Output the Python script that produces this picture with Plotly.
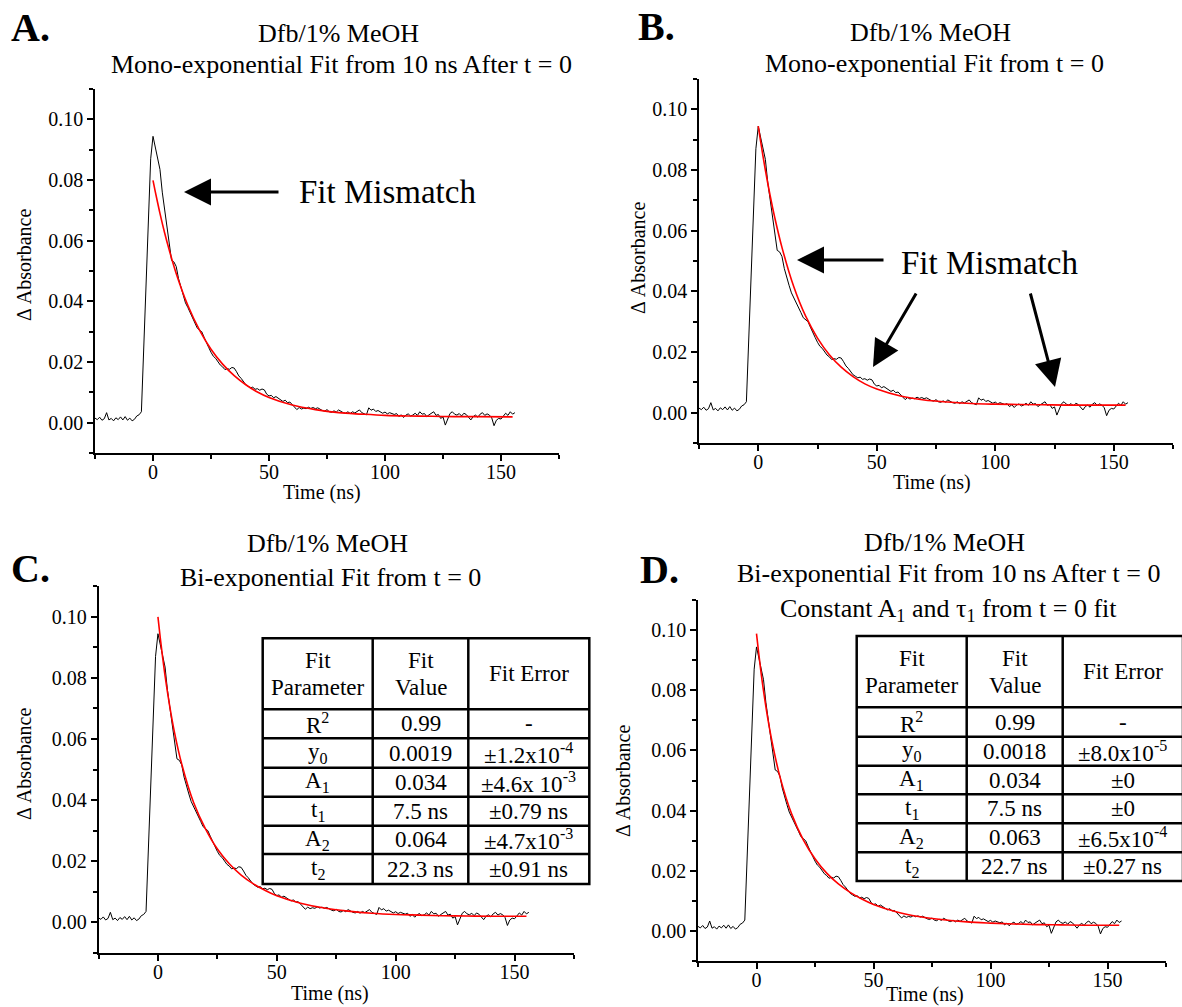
import plotly.graph_objects as go

W, H = 1182, 1007
FONT = "Liberation Serif"

# ---------------- data ----------------
time_ns = list(range(-25, 157))
absorbance = [
    0.0015, 0.0010, 0.0018, 0.0008, 0.0013, 0.0033, 0.0009, 0.0014, 0.0006, 0.0016,
    0.0010, 0.0019, 0.0009, 0.0020, 0.0008, 0.0015, 0.0006, 0.0011, 0.0022, 0.0026,
    0.0036, 0.0240, 0.0480, 0.0700, 0.0870, 0.0944, 0.0905, 0.0870, 0.0835, 0.0760,
    0.0700, 0.0650, 0.0580, 0.0535, 0.0530, 0.0515, 0.0475, 0.0445, 0.0420, 0.0395,
    0.0380, 0.0362, 0.0350, 0.0330, 0.0313, 0.0305, 0.0300, 0.0282, 0.0262, 0.0248,
    0.0232, 0.0219, 0.0212, 0.0200, 0.0190, 0.0184, 0.0175, 0.0178, 0.0176, 0.0182,
    0.0180, 0.0168, 0.0154, 0.0146, 0.0134, 0.0125, 0.0120, 0.0115, 0.0117, 0.0110,
    0.0112, 0.0107, 0.0111, 0.0108, 0.0094, 0.0088, 0.0090, 0.0082, 0.0086, 0.0080,
    0.0076, 0.0070, 0.0074, 0.0066, 0.0068, 0.0060, 0.0052, 0.0043, 0.0050, 0.0045,
    0.0048, 0.0046, 0.0051, 0.0047, 0.0050, 0.0046, 0.0049, 0.0044, 0.0040, 0.0038,
    0.0043, 0.0036, 0.0034, 0.0039, 0.0035, 0.0042, 0.0037, 0.0033, 0.0031, 0.0036,
    0.0030, 0.0036, 0.0032, 0.0038, 0.0042, 0.0033, 0.0029, 0.0026, 0.0049, 0.0041,
    0.0045, 0.0037, 0.0040, 0.0034, 0.0031, 0.0035, 0.0029, 0.0033, 0.0031, 0.0027,
    0.0030, 0.0020, 0.0026, 0.0017, 0.0025, 0.0029, 0.0022, 0.0025, 0.0031, 0.0024,
    0.0036, 0.0028, 0.0030, 0.0020, 0.0026, 0.0031, 0.0036, 0.0024, 0.0027, 0.0014,
    0.0019, -0.0008, 0.0012, 0.0030, 0.0036, 0.0028, 0.0025, 0.0030, 0.0022, 0.0031,
    0.0027, 0.0018, 0.0009, 0.0020, 0.0025, 0.0018, 0.0028, 0.0033, 0.0024, 0.0029,
    0.0025, 0.0016, -0.0010, 0.0008, 0.0014, 0.0012, 0.0022, 0.0031, 0.0024, 0.0036,
    0.0028, 0.0033,
]

fit_time_ns = [0, 1, 2, 3, 5, 7, 10, 15, 20, 25, 30, 35, 40, 45, 50, 60, 70, 80, 90,
               100, 110, 120, 130, 140, 155]
fit_A = [0.0799, 0.0761, 0.0725, 0.0690, 0.0626, 0.0569, 0.0492, 0.0387, 0.0306, 0.0242,
         0.0193, 0.0155, 0.0125, 0.0101, 0.0083, 0.0058, 0.0043, 0.0033, 0.0028,
         0.0024, 0.0022, 0.0021, 0.0020, 0.0020, 0.0019]
fit_B = [0.0945, 0.0894, 0.0846, 0.0800, 0.0716, 0.0642, 0.0545, 0.0415, 0.0318, 0.0246,
         0.0191, 0.0150, 0.0119, 0.0095, 0.0078, 0.0055, 0.0042, 0.0035, 0.0030,
         0.0028, 0.0027, 0.0026, 0.0025, 0.0025, 0.0025]
fit_C = [0.0999, 0.0929, 0.0865, 0.0806, 0.0705, 0.0620, 0.0518, 0.0392, 0.0306, 0.0240,
         0.0192, 0.0155, 0.0127, 0.0105, 0.0087, 0.0063, 0.0047, 0.0037, 0.0030,
         0.0026, 0.0024, 0.0022, 0.0021, 0.0020, 0.0020]
fit_D = [0.0988, 0.0919, 0.0855, 0.0798, 0.0698, 0.0615, 0.0513, 0.0389, 0.0303, 0.0240,
         0.0192, 0.0156, 0.0128, 0.0106, 0.0088, 0.0063, 0.0047, 0.0037, 0.0030,
         0.0026, 0.0023, 0.0021, 0.0020, 0.0019, 0.0019]

y_tick_vals = [0.00, 0.02, 0.04, 0.06, 0.08, 0.10]
y_minor_vals = [-0.01, 0.01, 0.03, 0.05, 0.07, 0.09, 0.11]
x_tick_vals = [0, 50, 100, 150]
x_minor_vals = [-25, 25, 75, 125, 175]

panel_letters = ["A.", "B.", "C.", "D."]
title_top = "Dfb/1% MeOH"
subtitles = {
    "A": ["Mono-exponential Fit from 10 ns After t = 0"],
    "B": ["Mono-exponential Fit from t = 0"],
    "C": ["Bi-exponential Fit from t = 0"],
    "D": ["Bi-exponential Fit from 10 ns After t = 0",
          "Constant A<sub>1</sub> and τ<sub>1</sub> from t = 0 fit"],
}

table_header = [["Fit", "Parameter"], ["Fit", "Value"], ["Fit Error"]]
table_params = ["R<sup>2</sup>", "y<sub>0</sub>", "A<sub>1</sub>", "t<sub>1</sub>",
                "A<sub>2</sub>", "t<sub>2</sub>"]
table_C_values = ["0.99", "0.0019", "0.034", "7.5 ns", "0.064", "22.3 ns"]
table_C_errors = ["-", "±1.2x10<sup>-4</sup>", "±4.6x 10<sup>-3</sup>", "±0.79 ns",
                  "±4.7x10<sup>-3</sup>", "±0.91 ns"]
table_D_values = ["0.99", "0.0018", "0.034", "7.5 ns", "0.063", "22.7 ns"]
table_D_errors = ["-", "±8.0x10<sup>-5</sup>", "±0", "±0",
                  "±6.5x10<sup>-4</sup>", "±0.27 ns"]

# ---------------- layout helpers ----------------
def px(x):
    return x / W


def py(y):
    return 1 - y / H


# plot rectangles in pixels: (left, right, top, bottom)
rects = {
    "A": (95, 559, 89, 453),
    "B": (699, 1173, 79, 443),
    "C": (98.5, 574, 586, 953),
    "D": (698, 1166, 600, 961),
}
fits = {"A": fit_A, "B": fit_B, "C": fit_C, "D": fit_D}
xtitle_pos = {"A": (322, 492), "B": (932, 482), "C": (330, 993), "D": (925, 994)}

fig = go.Figure()
annotations = []
shapes = []

tickfont = dict(family=FONT, size=20, color="black")

for i, key in enumerate(["A", "B", "C", "D"]):
    n = "" if i == 0 else str(i + 1)
    l, r, t, b = rects[key]
    fig.add_trace(go.Scatter(x=time_ns, y=absorbance, mode="lines",
                             line=dict(color="black", width=1),
                             xaxis="x" + n, yaxis="y" + n, showlegend=False))
    fig.add_trace(go.Scatter(x=fit_time_ns, y=fits[key], mode="lines",
                             line=dict(color="#ff0000", width=1.6, shape="spline"),
                             xaxis="x" + n, yaxis="y" + n, showlegend=False))
    fig.layout["xaxis" + n] = dict(
        domain=[px(l), px(r)], anchor="y" + n, range=[-25, 175],
        showline=True, linecolor="black", linewidth=1.5, mirror=False,
        ticks="outside", ticklen=6, tickwidth=1.5, tickcolor="black",
        tickvals=x_tick_vals, ticktext=[str(v) for v in x_tick_vals],
        ticklabelstandoff=-6,
        showgrid=False, zeroline=False, tickfont=tickfont,
        minor=dict(ticks="outside", ticklen=4, tickwidth=1.5, tickcolor="black",
                   tickvals=x_minor_vals, showgrid=False),
    )
    fig.layout["yaxis" + n] = dict(
        domain=[py(b), py(t)], anchor="x" + n, range=[-0.01, 0.11],
        showline=True, linecolor="black", linewidth=1.5,
        ticks="outside", ticklen=6, tickwidth=1.5, tickcolor="black",
        tickvals=y_tick_vals, ticktext=["%.2f" % v for v in y_tick_vals],
        showgrid=False, zeroline=False, tickfont=tickfont,
        minor=dict(ticks="outside", ticklen=4, tickwidth=1.5, tickcolor="black",
                   tickvals=y_minor_vals, showgrid=False),
    )
    xx, yy = xtitle_pos[key]
    annotations.append(dict(text="Time (ns)", x=px(xx), y=py(yy),
                            xref="paper", yref="paper", showarrow=False,
                            xanchor="center", yanchor="middle",
                            font=dict(family=FONT, size=20, color="black")))

ytitle_pos = {"A": (24, 265), "B": (638, 258), "C": (24, 764), "D": (623, 781)}
for key, (x, y) in ytitle_pos.items():
    annotations.append(dict(text="Δ Absorbance", x=px(x), y=py(y), xref="paper",
                            yref="paper", showarrow=False, textangle=-90,
                            xanchor="center", yanchor="middle",
                            font=dict(family=FONT, size=20, color="black")))

# panel letters
letter_pos = [(30, 28), (657, 27), (30, 568), (659, 569)]
for letter, (x, y) in zip(panel_letters, letter_pos):
    annotations.append(dict(text="<b>" + letter + "</b>", x=px(x), y=py(y),
                            xref="paper", yref="paper", showarrow=False,
                            xanchor="center", yanchor="middle",
                            font=dict(family=FONT, size=40, color="black")))

# titles
title_pos = {
    "A": [(338, 33), (341, 65)],
    "B": [(930, 32), (934, 63)],
    "C": [(327, 543), (330, 577)],
    "D": [(944, 542), (948, 573), (948, 610)],
}
for key, pos in title_pos.items():
    lines = [title_top] + subtitles[key]
    for txt, (x, y) in zip(lines, pos):
        annotations.append(dict(text=txt, x=px(x), y=py(y), xref="paper", yref="paper",
                                showarrow=False, xanchor="center", yanchor="middle",
                                font=dict(family=FONT, size=26, color="black")))

# Fit mismatch labels and arrows
for (x, y) in [(297, 192), (899, 263)]:
    annotations.append(dict(text="Fit Mismatch", x=px(x), y=py(y), xref="paper",
                            yref="paper", showarrow=False, xanchor="left",
                            yanchor="middle",
                            font=dict(family=FONT, size=33, color="black")))
arrows = [((184, 192), (280, 192)), ((797, 260), (885, 260)),
          ((873, 367), (917, 292)), ((1055, 387), (1030, 292))]
for (tip, tail) in arrows:
    annotations.append(dict(text="", x=px(tip[0]), y=py(tip[1]), xref="paper",
                            yref="paper", showarrow=True, ax=tail[0] - tip[0],
                            ay=tail[1] - tip[1], axref="pixel", ayref="pixel",
                            arrowhead=2, arrowsize=1.8, arrowwidth=3,
                            arrowcolor="black", standoff=0, startstandoff=0))


# tables
def draw_table(cols, rows, values, errors):
    shapes.append(dict(type="rect", xref="paper", yref="paper",
                       x0=px(cols[0]), x1=px(cols[-1]), y0=py(rows[0]), y1=py(rows[-1]),
                       fillcolor="white", line=dict(color="black", width=2.5),
                       layer="above"))
    for c in cols[1:-1]:
        shapes.append(dict(type="line", xref="paper", yref="paper",
                           x0=px(c), x1=px(c), y0=py(rows[0]), y1=py(rows[-1]),
                           line=dict(color="black", width=2.5), layer="above"))
    for rr in rows[1:-1]:
        shapes.append(dict(type="line", xref="paper", yref="paper",
                           x0=px(cols[0]), x1=px(cols[-1]), y0=py(rr), y1=py(rr),
                           line=dict(color="black", width=2.5), layer="above"))
    tf = dict(family=FONT, size=23, color="black")
    hc = (rows[0] + rows[1]) / 2
    for ci, head in enumerate(table_header):
        xc = (cols[ci] + cols[ci + 1]) / 2
        if len(head) == 2:
            ys = [hc - 13.5, hc + 13.5]
        else:
            ys = [hc]
        for txt, yy in zip(head, ys):
            annotations.append(dict(text=txt, x=px(xc), y=py(yy), xref="paper",
                                    yref="paper", showarrow=False, xanchor="center",
                                    yanchor="middle", font=tf))
    for ri in range(6):
        yc = (rows[ri + 1] + rows[ri + 2]) / 2
        for ci, txt in enumerate([table_params[ri], values[ri], errors[ri]]):
            xc = (cols[ci] + cols[ci + 1]) / 2
            annotations.append(dict(text=txt, x=px(xc), y=py(yc), xref="paper",
                                    yref="paper", showarrow=False, xanchor="center",
                                    yanchor="middle", font=tf))


draw_table([262.7, 372.7, 468.3, 589.3],
           [638.3, 709.3, 738.3, 767.7, 796.7, 825.7, 854, 884],
           table_C_values, table_C_errors)
draw_table([856.7, 966.7, 1062.7, 1183],
           [636, 707.3, 736.7, 765.7, 794.3, 823.3, 852.3, 881],
           table_D_values, table_D_errors)

fig.update_layout(width=W, height=H, margin=dict(l=0, r=0, t=0, b=0),
                  paper_bgcolor="white", plot_bgcolor="white", showlegend=False,
                  annotations=annotations, shapes=shapes,
                  font=dict(family=FONT, color="black"))

fig.write_html("out.html")
